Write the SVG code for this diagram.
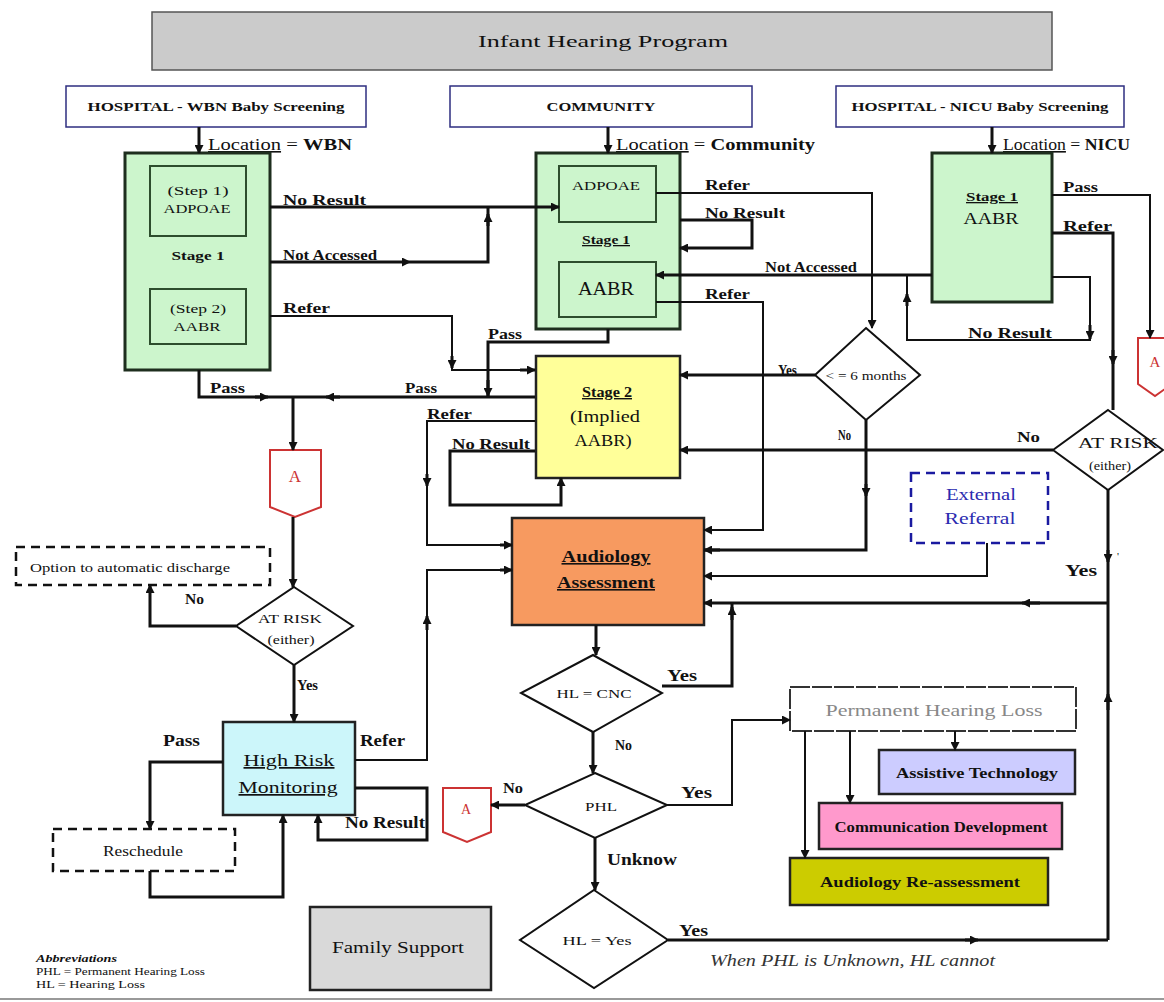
<svg xmlns="http://www.w3.org/2000/svg" width="1164" height="1002" viewBox="0 0 1164 1002">
<style>
text{font-family:"Liberation Serif","Times New Roman",serif;fill:#111}
.lbl{font-size:14px;font-weight:bold}
.lbl2{font-size:16px;font-weight:bold}
.hdr{font-size:13px;font-weight:bold}
.c{fill:none;stroke:#111;stroke-width:3;marker-end:url(#arr)}
.cn{fill:none;stroke:#111;stroke-width:3}
.t{fill:none;stroke:#111;stroke-width:2;marker-end:url(#arr)}
.tn{fill:none;stroke:#111;stroke-width:2}
.box{stroke:#222;stroke-width:2.5}
.green{fill:#ccf5cc;stroke:#1e2e1e;stroke-width:3}
.inner{fill:#ccf5cc;stroke:#2d4d2d;stroke-width:2}
.dia{fill:#fff;stroke:#111;stroke-width:2}
.offp{fill:#fff;stroke:#cc3333;stroke-width:2}
.u{text-decoration:underline}
.red{fill:#cc3333}
</style>
<defs>
<marker id="arr" markerUnits="userSpaceOnUse" markerWidth="9" markerHeight="9" refX="8" refY="4.5" orient="auto">
<path d="M0,0 L9,4.5 L0,9 z" fill="#111"/>
</marker>
</defs>
<rect width="1164" height="1002" fill="#fff"/>
<line x1="0" y1="999" x2="1164" y2="999" stroke="#999" stroke-width="2"/>

<g id="title">
<rect x="152" y="12" width="900" height="58" fill="#cbcbcb" stroke="#555" stroke-width="1.5"/>
<text x="603" y="47" text-anchor="middle" font-size="17" textLength="250" lengthAdjust="spacingAndGlyphs">Infant Hearing Program</text>
</g>

<g id="hdr-wbn">
<rect x="66" y="86" width="300" height="41" fill="#fff" stroke="#2e2e80" stroke-width="1.5"/>
<text class="hdr" x="216" y="111" text-anchor="middle" textLength="257" lengthAdjust="spacingAndGlyphs">HOSPITAL - WBN Baby Screening</text>
</g>
<g id="hdr-community">
<rect x="450" y="86" width="302" height="41" fill="#fff" stroke="#2e2e80" stroke-width="1.5"/>
<text class="hdr" x="601" y="111" text-anchor="middle" textLength="109" lengthAdjust="spacingAndGlyphs">COMMUNITY</text>
</g>
<g id="hdr-nicu">
<rect x="836" y="86" width="288" height="41" fill="#fff" stroke="#2e2e80" stroke-width="1.5"/>
<text class="hdr" x="980" y="111" text-anchor="middle" textLength="257" lengthAdjust="spacingAndGlyphs">HOSPITAL - NICU Baby Screening</text>
</g>

<g id="loc-texts">
<text x="208" y="150" font-size="16" textLength="144" lengthAdjust="spacingAndGlyphs"><tspan class="u">Location</tspan> = <tspan font-weight="bold">WBN</tspan></text>
<text x="616" y="150" font-size="16" textLength="199" lengthAdjust="spacingAndGlyphs"><tspan class="u">Location</tspan> =  <tspan font-weight="bold">Community</tspan></text>
<text x="1003" y="150" font-size="16" textLength="127" lengthAdjust="spacingAndGlyphs"><tspan class="u">Location</tspan> = <tspan font-weight="bold">NICU</tspan></text>
</g>

<g id="wbn-stage1">
<rect class="green" x="125" y="153" width="145" height="217"/>
<rect class="inner" x="150" y="166" width="96" height="70"/>
<text x="198" y="195" text-anchor="middle" font-size="13" textLength="61" lengthAdjust="spacingAndGlyphs">(Step 1)</text>
<text x="197" y="213" text-anchor="middle" font-size="13" textLength="67" lengthAdjust="spacingAndGlyphs">ADPOAE</text>
<text x="198" y="260" text-anchor="middle" font-size="13" font-weight="bold" textLength="53" lengthAdjust="spacingAndGlyphs">Stage 1</text>
<rect class="inner" x="150" y="289" width="96" height="55"/>
<text x="198" y="313" text-anchor="middle" font-size="13" textLength="56" lengthAdjust="spacingAndGlyphs">(Step 2)</text>
<text x="197" y="331" text-anchor="middle" font-size="13" textLength="47" lengthAdjust="spacingAndGlyphs">AABR</text>
</g>

<g id="community-stage1">
<rect class="green" x="536" y="153" width="144" height="176"/>
<rect class="inner" x="559" y="166" width="97" height="56"/>
<text x="606" y="190" text-anchor="middle" font-size="13" textLength="68" lengthAdjust="spacingAndGlyphs">ADPOAE</text>
<text x="606" y="244" text-anchor="middle" font-size="13" font-weight="bold" class="u" textLength="48" lengthAdjust="spacingAndGlyphs">Stage 1</text>
<rect class="inner" x="559" y="262" width="97" height="55"/>
<text x="606" y="295" text-anchor="middle" font-size="18" textLength="56" lengthAdjust="spacingAndGlyphs">AABR</text>
</g>

<g id="nicu-stage1">
<rect class="green" x="932" y="153" width="120" height="149"/>
<text x="992" y="201" text-anchor="middle" font-size="13" font-weight="bold" class="u" textLength="52" lengthAdjust="spacingAndGlyphs">Stage 1</text>
<text x="991" y="224" text-anchor="middle" font-size="17" textLength="55" lengthAdjust="spacingAndGlyphs">AABR</text>
</g>

<g id="stage2">
<rect x="536" y="356" width="144" height="122" fill="#ffff99" class="box"/>
<text x="607" y="397" text-anchor="middle" font-size="14" font-weight="bold" class="u" textLength="50" lengthAdjust="spacingAndGlyphs">Stage 2</text>
<text x="605" y="422" text-anchor="middle" font-size="17" textLength="70" lengthAdjust="spacingAndGlyphs">(Implied</text>
<text x="603" y="446" text-anchor="middle" font-size="17" textLength="57" lengthAdjust="spacingAndGlyphs">AABR)</text>
</g>

<g id="months">
<polygon class="dia" points="866,328 920,375 866,420 815,375"/>
<text x="866" y="380" text-anchor="middle" font-size="12" textLength="81" lengthAdjust="spacingAndGlyphs">&lt; = 6 months</text>
</g>

<g id="atrisk-right">
<polygon class="dia" points="1108,410 1163,450 1108,490 1053,450"/>
<text x="1118" y="448" text-anchor="middle" font-size="14" textLength="80" lengthAdjust="spacingAndGlyphs">AT RISK</text>
<text x="1110" y="470" text-anchor="middle" font-size="12" textLength="42" lengthAdjust="spacingAndGlyphs">(either)</text>
</g>

<g id="offpage-right">
<polygon class="offp" points="1138,338 1172,338 1172,384 1155,396 1138,384"/>
<text x="1155" y="367" text-anchor="middle" font-size="15" class="red">A</text>
</g>

<g id="external-referral">
<rect x="911" y="473" width="137" height="70" fill="#fff" stroke="#1a1aa0" stroke-width="2.5" stroke-dasharray="9,6"/>
<text x="981" y="500" text-anchor="middle" font-size="16" style="fill:#2b2bb0" textLength="70" lengthAdjust="spacingAndGlyphs">External</text>
<text x="980" y="524" text-anchor="middle" font-size="16" style="fill:#2b2bb0" textLength="71" lengthAdjust="spacingAndGlyphs">Referral</text>
</g>

<g id="audiology">
<rect x="512" y="518" width="192" height="107" fill="#f79a60" class="box"/>
<text x="606" y="562" text-anchor="middle" font-size="16" font-weight="bold" class="u" textLength="89" lengthAdjust="spacingAndGlyphs">Audiology</text>
<text x="606" y="588" text-anchor="middle" font-size="16" font-weight="bold" class="u" textLength="98" lengthAdjust="spacingAndGlyphs">Assessment</text>
</g>

<g id="offpage-left">
<polygon class="offp" points="270,450 321,450 321,507 295,517 270,507"/>
<text x="295" y="482" text-anchor="middle" font-size="17" class="red">A</text>
</g>

<g id="discharge">
<rect x="16" y="547" width="254" height="38" fill="#fff" stroke="#111" stroke-width="2.5" stroke-dasharray="9,6"/>
<text x="30" y="572" font-size="13" textLength="200" lengthAdjust="spacingAndGlyphs">Option to automatic discharge</text>
</g>

<g id="atrisk-left">
<polygon class="dia" points="294,587 353,626 294,665 236,626"/>
<text x="290" y="623" text-anchor="middle" font-size="13" textLength="64" lengthAdjust="spacingAndGlyphs">AT RISK</text>
<text x="291" y="644" text-anchor="middle" font-size="12" textLength="47" lengthAdjust="spacingAndGlyphs">(either)</text>
</g>

<g id="hrm">
<rect x="223" y="722" width="132" height="93" fill="#ccf6fa" class="box"/>
<text x="289" y="766" text-anchor="middle" font-size="17" class="u" textLength="91" lengthAdjust="spacingAndGlyphs">High Risk</text>
<text x="288" y="793" text-anchor="middle" font-size="17" class="u" textLength="99" lengthAdjust="spacingAndGlyphs">Monitoring</text>
</g>

<g id="reschedule">
<rect x="53" y="829" width="182" height="42" fill="#fff" stroke="#111" stroke-width="2.5" stroke-dasharray="9,6"/>
<text x="143" y="856" text-anchor="middle" font-size="14" textLength="80" lengthAdjust="spacingAndGlyphs">Reschedule</text>
</g>

<g id="family-support">
<rect x="310" y="907" width="181" height="83" fill="#d9d9d9" class="box"/>
<text x="398" y="953" text-anchor="middle" font-size="17" textLength="132" lengthAdjust="spacingAndGlyphs">Family Support</text>
</g>

<g id="hl-cnc">
<polygon class="dia" points="593,655 662,693 593,732 521,693"/>
<text x="594" y="698" text-anchor="middle" font-size="13" textLength="75" lengthAdjust="spacingAndGlyphs">HL = CNC</text>
</g>

<g id="phl">
<polygon class="dia" points="595,773 667,805 595,838 525,805"/>
<text x="601" y="811" text-anchor="middle" font-size="13" textLength="32" lengthAdjust="spacingAndGlyphs">PHL</text>
</g>

<g id="offpage-phl">
<polygon class="offp" points="443,788 491,788 491,832 467,842 443,832"/>
<text x="466" y="814" text-anchor="middle" font-size="14" class="red">A</text>
</g>

<g id="hl-yes">
<polygon class="dia" points="594,890 668,940 594,988 520,940"/>
<text x="597" y="945" text-anchor="middle" font-size="13" textLength="69" lengthAdjust="spacingAndGlyphs">HL = Yes</text>
</g>

<g id="phl-box">
<rect x="790" y="687" width="286" height="44" fill="#fff" stroke="#333" stroke-width="2" stroke-dasharray="20,2"/>
<text x="934" y="716" text-anchor="middle" font-size="17" style="fill:#888" textLength="217" lengthAdjust="spacingAndGlyphs">Permanent Hearing Loss</text>
</g>

<g id="assistive">
<rect x="879" y="750" width="196" height="44" fill="#ccccff" class="box"/>
<text x="977" y="778" text-anchor="middle" font-size="14" font-weight="bold" textLength="162" lengthAdjust="spacingAndGlyphs">Assistive Technology</text>
</g>

<g id="comm-dev">
<rect x="819" y="803" width="243" height="46" fill="#ff99cc" class="box"/>
<text x="941" y="832" text-anchor="middle" font-size="14" font-weight="bold" textLength="213" lengthAdjust="spacingAndGlyphs">Communication Development</text>
</g>

<g id="reassess">
<rect x="790" y="858" width="258" height="47" fill="#cccc00" class="box"/>
<text x="920" y="887" text-anchor="middle" font-size="15" font-weight="bold" textLength="200" lengthAdjust="spacingAndGlyphs">Audiology Re-assessment</text>
</g>

<g id="abbrev">
<text x="36" y="962" font-size="10" font-weight="bold" font-style="italic" textLength="81" lengthAdjust="spacingAndGlyphs">Abbreviations</text>
<text x="36" y="975" font-size="10" textLength="169" lengthAdjust="spacingAndGlyphs">PHL = Permanent Hearing Loss</text>
<text x="36" y="988" font-size="10" textLength="109" lengthAdjust="spacingAndGlyphs">HL  = Hearing Loss</text>
</g>

<text x="710" y="966" font-size="16" font-style="italic" style="fill:#333" textLength="285" lengthAdjust="spacingAndGlyphs">When PHL is Unknown, HL cannot</text>

<g id="connectors">
<path class="c" d="M199,127 V153"/>
<path class="c" d="M608,127 V153"/>
<path class="c" d="M992,127 V153"/>
<path class="c" d="M270,207 H559"/>
<path class="c" d="M270,262 H410"/>
<path class="cn" d="M410,262 H488 V207"/>
<path class="c" d="M488,226 V214"/>
<path class="tn" d="M270,316 H452 V370 H535"/>
<path class="c" d="M452,356 V368"/>
<path class="c" d="M520,370 H535"/>
<path class="cn" d="M199,370 V397 H535"/>
<path class="c" d="M255,397 H268"/>
<path class="c" d="M340,397 H326"/>
<path class="c" d="M293,397 V450"/>
<path class="cn" d="M608,329 V342 H488 V397"/>
<path class="c" d="M488,380 V396"/>
<path class="t" d="M656,193 H872 V328"/>
<path class="c" d="M680,220 H752 V248 H680"/>
<path class="c" d="M932,275 H656"/>
<path class="tn" d="M1052,277 H1090 V340 H907 V275"/>
<path class="c" d="M1090,325 V339"/>
<path class="c" d="M907,306 V294"/>
<path class="t" d="M656,302 H763 V530 H704"/>
<path class="t" d="M1052,195 H1150 V338"/>
<path class="cn" d="M1052,233 H1113 V410"/>
<path class="c" d="M1113,350 V364"/>
<path class="c" d="M815,375 H680"/>
<path class="cn" d="M866,420 V550 H704"/>
<path class="c" d="M866,484 V496"/>
<path class="c" d="M720,550 H704"/>
<path class="c" d="M1053,450 H680"/>
<path class="cn" d="M1108,490 V940"/>
<path class="c" d="M1108,550 V562"/>
<path class="c" d="M1108,603 H704"/>
<path class="c" d="M1040,603 H1022"/>
<path class="t" d="M987,543 V576 H704"/>
<path class="tn" d="M535,421 H427 V545 H512"/>
<path class="c" d="M427,474 V486"/>
<path class="c" d="M500,545 H512"/>
<path class="c" d="M535,451 H450 V505 H561 V478"/>
<path class="c" d="M596,625 V655"/>
<path class="cn" d="M662,686 H732 V603"/>
<path class="c" d="M732,620 V607"/>
<path class="c" d="M593,732 V773"/>
<path class="c" d="M525,805 H491"/>
<path class="t" d="M667,805 H732 V720 H790"/>
<path class="c" d="M595,838 V890"/>
<path class="cn" d="M668,940 H1108"/>
<path class="c" d="M965,940 H978"/>
<path class="c" d="M1108,710 V694"/>
<path class="t" d="M955,731 V750"/>
<path class="t" d="M850,731 V803"/>
<path class="t" d="M805,731 V858"/>
<path class="c" d="M293,517 V587"/>
<path class="c" d="M236,626 H150 V585"/>
<path class="c" d="M294,665 V722"/>
<path class="c" d="M223,762 H150 V829"/>
<path class="c" d="M150,871 V897 H283 V815"/>
<path class="tn" d="M355,760 H427 V570 H512"/>
<path class="c" d="M427,630 V616"/>
<path class="c" d="M500,570 H512"/>
<path class="c" d="M355,788 H427 V840 H318 V815"/>
</g>

<g id="labels">
<text class="lbl" x="283" y="205" textLength="83" lengthAdjust="spacingAndGlyphs">No Result</text>
<text class="lbl" x="283" y="260" textLength="94" lengthAdjust="spacingAndGlyphs">Not Accessed</text>
<text class="lbl" x="283" y="313" textLength="47" lengthAdjust="spacingAndGlyphs">Refer</text>
<text class="lbl" x="210" y="393" textLength="35" lengthAdjust="spacingAndGlyphs">Pass</text>
<text class="lbl" x="405" y="393" textLength="32" lengthAdjust="spacingAndGlyphs">Pass</text>
<text class="lbl" x="488" y="339" textLength="34" lengthAdjust="spacingAndGlyphs">Pass</text>
<text class="lbl" x="705" y="190" textLength="45" lengthAdjust="spacingAndGlyphs">Refer</text>
<text class="lbl" x="705" y="218" textLength="80" lengthAdjust="spacingAndGlyphs">No Result</text>
<text class="lbl" x="765" y="272" textLength="92" lengthAdjust="spacingAndGlyphs">Not Accessed</text>
<text class="lbl" x="705" y="299" textLength="45" lengthAdjust="spacingAndGlyphs">Refer</text>
<text class="lbl" x="1063" y="192" textLength="35" lengthAdjust="spacingAndGlyphs">Pass</text>
<text class="lbl" x="1063" y="231" textLength="49" lengthAdjust="spacingAndGlyphs">Refer</text>
<text class="lbl" x="968" y="338" textLength="84" lengthAdjust="spacingAndGlyphs">No Result</text>
<text class="lbl" x="778" y="375" textLength="19" lengthAdjust="spacingAndGlyphs">Yes</text>
<text class="lbl" x="838" y="440" textLength="13" lengthAdjust="spacingAndGlyphs">No</text>
<text class="lbl" x="1017" y="442" textLength="23" lengthAdjust="spacingAndGlyphs">No</text>
<text class="lbl2" x="1065" y="576" textLength="32" lengthAdjust="spacingAndGlyphs">Yes</text>
<text x="1117" y="560" font-size="11">'</text>
<text class="lbl" x="427" y="419" textLength="45" lengthAdjust="spacingAndGlyphs">Refer</text>
<text class="lbl" x="452" y="449" textLength="78" lengthAdjust="spacingAndGlyphs">No Result</text>
<text class="lbl" x="185" y="604" textLength="19" lengthAdjust="spacingAndGlyphs">No</text>
<text class="lbl" x="297" y="690" textLength="21" lengthAdjust="spacingAndGlyphs">Yes</text>
<text class="lbl2" x="163" y="746" textLength="37" lengthAdjust="spacingAndGlyphs">Pass</text>
<text class="lbl2" x="360" y="746" textLength="45" lengthAdjust="spacingAndGlyphs">Refer</text>
<text class="lbl2" x="345" y="828" textLength="80" lengthAdjust="spacingAndGlyphs">No Result</text>
<text class="lbl2" x="667" y="681" textLength="30" lengthAdjust="spacingAndGlyphs">Yes</text>
<text class="lbl" x="615" y="750" textLength="17" lengthAdjust="spacingAndGlyphs">No</text>
<text class="lbl" x="503" y="793" textLength="20" lengthAdjust="spacingAndGlyphs">No</text>
<text class="lbl2" x="681" y="798" textLength="31" lengthAdjust="spacingAndGlyphs">Yes</text>
<text class="lbl2" x="607" y="865" textLength="70" lengthAdjust="spacingAndGlyphs">Unknow</text>
<text class="lbl2" x="679" y="936" textLength="29" lengthAdjust="spacingAndGlyphs">Yes</text>
</g>
</svg>
